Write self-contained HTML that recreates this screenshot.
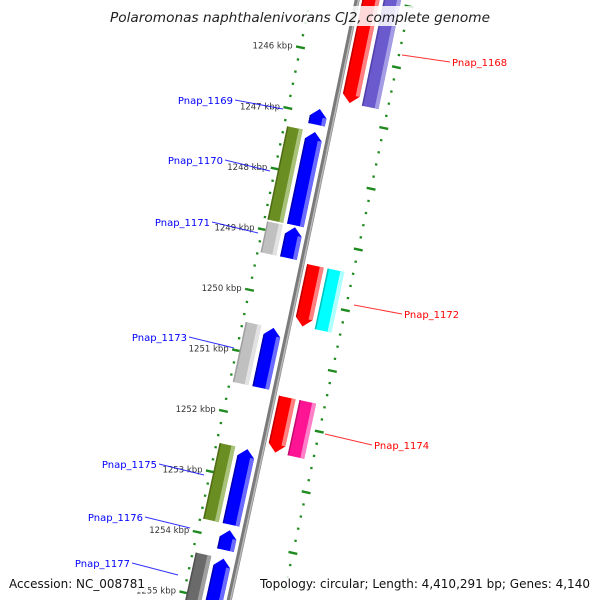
<!DOCTYPE html>
<html><head><meta charset="utf-8"><style>
html,body{margin:0;padding:0;background:#fff;width:600px;height:600px;overflow:hidden;}
svg{display:block;font-family:"DejaVu Sans","Liberation Sans",sans-serif;}
</style></head><body>
<svg id="map" width="600" height="600" viewBox="0 0 600 600" xmlns="http://www.w3.org/2000/svg">
<g id="ticks"></g>
<g id="genes"></g>
<g id="labels"></g>
</svg>
<script>
// ---- data ----
const genomeLength = 4410.291; // kbp
const geneNames = ["Pnap_1168","Pnap_1169","Pnap_1170","Pnap_1171","Pnap_1172","Pnap_1173","Pnap_1174","Pnap_1175","Pnap_1176","Pnap_1177"];
const geneStarts = [1244.3,1246.91,1247.29,1248.86,1249.40,1250.52,1251.57,1252.52,1253.86,1254.33];
const geneEnds   = [1246.72,1247.17,1248.83,1249.37,1250.40,1251.51,1252.48,1253.77,1254.19,1255.8];
const geneStrands = [1,-1,-1,-1,1,-1,1,-1,-1,-1];
const geneCogColors = ["#6a5acd",null,"#6b8e23","#c0c0c0","#00ffff","#c0c0c0","#ff1493","#6b8e23",null,"#6a6a6a"];
const tickLabels = [1245,1246,1247,1248,1249,1250,1251,1252,1253,1254,1255,1256];

// ---- geometry ----
const R = 62*genomeLength/(2*Math.PI);
const th = k => k/genomeLength*2*Math.PI;
const P0 = [345.5,56.7], K0 = 1246;
const C = [P0[0]-R*Math.sin(th(K0)), P0[1]+R*Math.cos(th(K0))];
function pt(k,d){const t=th(k);return [C[0]+(R+d)*Math.sin(t), C[1]-(R+d)*Math.cos(t)];}
const NS="http://www.w3.org/2000/svg";
function mk(tag,attrs,parent){const e=document.createElementNS(NS,tag);for(const a in attrs)e.setAttribute(a,attrs[a]);parent.appendChild(e);return e;}
const f=p=>p[0].toFixed(2)+","+p[1].toFixed(2);
function arcPts(k1,k2,d){const out=[];const n=6;for(let i=0;i<=n;i++)out.push(pt(k1+(k2-k1)*i/n,d));return out;}

const tg=document.getElementById('ticks'), gg=document.getElementById('genes'), lg=document.getElementById('labels');

// backbone
const bb=mk('polyline',{points:arcPts(1244.5,1256.3,0).map(f).join(' '),fill:'none',stroke:'#7a7a7a','stroke-width':5},gg);


const bb2=mk('polyline',{points:arcPts(1244.5,1256.3,1.2).map(f).join(' '),fill:'none',stroke:'#b8b8b8','stroke-width':1.6},gg);



// ticks
const ringD=[-46,52];
for(const rd of ringD){
  for(let i=Math.round(1244.6*5);i<=1256*5;i++){
    const k=i/5;
    const major=(i%5===0);
    const half=major?4.5:1.2;
    const a=pt(k,rd-half),b=pt(k,rd+half);
    if(a[1]>604||b[1]>604) continue;
    const ln=mk('line',{x1:a[0],y1:a[1],x2:b[0],y2:b[1],stroke:'#1f8a1f','stroke-width':major?2.4:2.2},tg);
    
    
  }
}
for(const k of tickLabels){
  const p=pt(k,-54);
  if(p[1]>604||p[1]<30) continue;
  const t=mk('text',{x:p[0],y:p[1]+3,'text-anchor':'end','font-size':'8.5',fill:'#333'},tg);
  t.textContent=k+' kbp';
  
  
}

// genes
const ah=0.13;
function shape(k1,k2,d1,d2,strand,arrow){
  let pts=[];
  if(!arrow){pts=arcPts(k1,k2,d1).concat(arcPts(k1,k2,d2).reverse());}
  else if(strand>0){const kb=Math.max(k1,k2-ah);pts=arcPts(k1,kb,d1).concat([pt(k2,(d1+d2)/2)],arcPts(k1,kb,d2).reverse());}
  else{const ka=Math.min(k2,k1+ah);pts=[pt(k1,(d1+d2)/2)].concat(arcPts(ka,k2,d1),arcPts(ka,k2,d2).reverse());}
  return pts.map(f).join(' ');
}
const light={"#ff0000":"#ff8080","#0000ff":"#6b6bff","#6a5acd":"#a59ce6","#6b8e23":"#a9c27a","#c0c0c0":"#e2e2e2","#00ffff":"#b0ffff","#ff1493":"#ff80c8","#6a6a6a":"#a0a0a0"};
const dark={"#ff0000":"#c00000","#0000ff":"#0000b0","#6a5acd":"#5040a8","#6b8e23":"#4f6b16","#c0c0c0":"#a0a0a0","#00ffff":"#00c0c0","#ff1493":"#c0106e","#6a6a6a":"#505050"};
function drawGene(i,d1,d2,col,arrow,name){
  const g=mk('g',{},gg);
  
  
  const k1=geneStarts[i],k2=geneEnds[i],s=geneStrands[i];
  mk('polygon',{points:shape(k1,k2,d1,d2,s,arrow),fill:col},g);
  let b1=k1,b2=k2;
  if(arrow){ if(s>0) b2=Math.max(k1,k2-ah); else b1=Math.min(k2,k1+ah); }
  mk('polygon',{points:shape(b1,b2,d1,d1+1.5,s,false),fill:dark[col]},g);
  const hw=Math.min(4,(d2-d1)*0.25);
  mk('polygon',{points:shape(b1,b2,d2-hw,d2,s,false),fill:light[col]},g);
}
for(let i=0;i<geneNames.length;i++){
  const s=geneStrands[i];
  const id=geneNames[i].toLowerCase().replace('_','-');
  if(s>0){
    drawGene(i,5,22,'#ff0000',true,'gene-'+id);
    if(geneCogColors[i])drawGene(i,26,43,geneCogColors[i],false,'cog-'+id);
  } else {
    drawGene(i,-23,-6,'#0000ff',true,'gene-'+id);
    if(geneCogColors[i])drawGene(i,-43,-27,geneCogColors[i],false,'cog-'+id);
  }
}

// labels (layout positions)
const labelPos=[[452,62,402,55,'start'],[233,100,283,109,'end'],[223,160,270,171,'end'],[210,222,258,233,'end'],[404,314,354,305,'start'],[187,337,234,348,'end'],[374,445,325,434,'start'],[157,464,204,475,'end'],[143,517,190,528,'end'],[130,563,178,575,'end']];
for(let i=0;i<geneNames.length;i++){
  const [tx,ty,lx,ly,anc]=labelPos[i];
  const col=geneStrands[i]>0?'#ff0000':'#0000ff';
  const l=mk('line',{x1:anc==='end'?tx+2:tx-2,y1:ty,x2:lx,y2:ly,stroke:col,'stroke-width':1,opacity:0.8},lg);
  
  
  const t=mk('text',{x:tx,y:ty+4,'text-anchor':anc,'font-size':'10',fill:col},lg);
  t.textContent=geneNames[i];
  
  
}

// title & footer
const svg=document.getElementById('map');
const tb=mk('rect',{x:108,y:6,width:384,height:20,fill:'#fff',opacity:0.85},svg);


const title=mk('text',{x:300,y:22,'text-anchor':'middle','font-size':'13','font-style':'italic',fill:'#222',textLength:380,lengthAdjust:'spacingAndGlyphs'},svg);
title.textContent='Polaromonas naphthalenivorans CJ2, complete genome';


const fb1=mk('rect',{x:6,y:574,width:142,height:18,fill:'#fff',opacity:0.85},svg);


const acc=mk('text',{x:9,y:588,'font-size':'12.5',fill:'#111',textLength:136,lengthAdjust:'spacingAndGlyphs'},svg);
acc.textContent='Accession: NC_008781';


const fb2=mk('rect',{x:256,y:574,width:338,height:18,fill:'#fff',opacity:0.85},svg);


const topo=mk('text',{x:590,y:588,'text-anchor':'end','font-size':'12.5',fill:'#111',textLength:330,lengthAdjust:'spacingAndGlyphs'},svg);
topo.textContent='Topology: circular; Length: 4,410,291 bp; Genes: 4,140';


</script>
</body></html>
